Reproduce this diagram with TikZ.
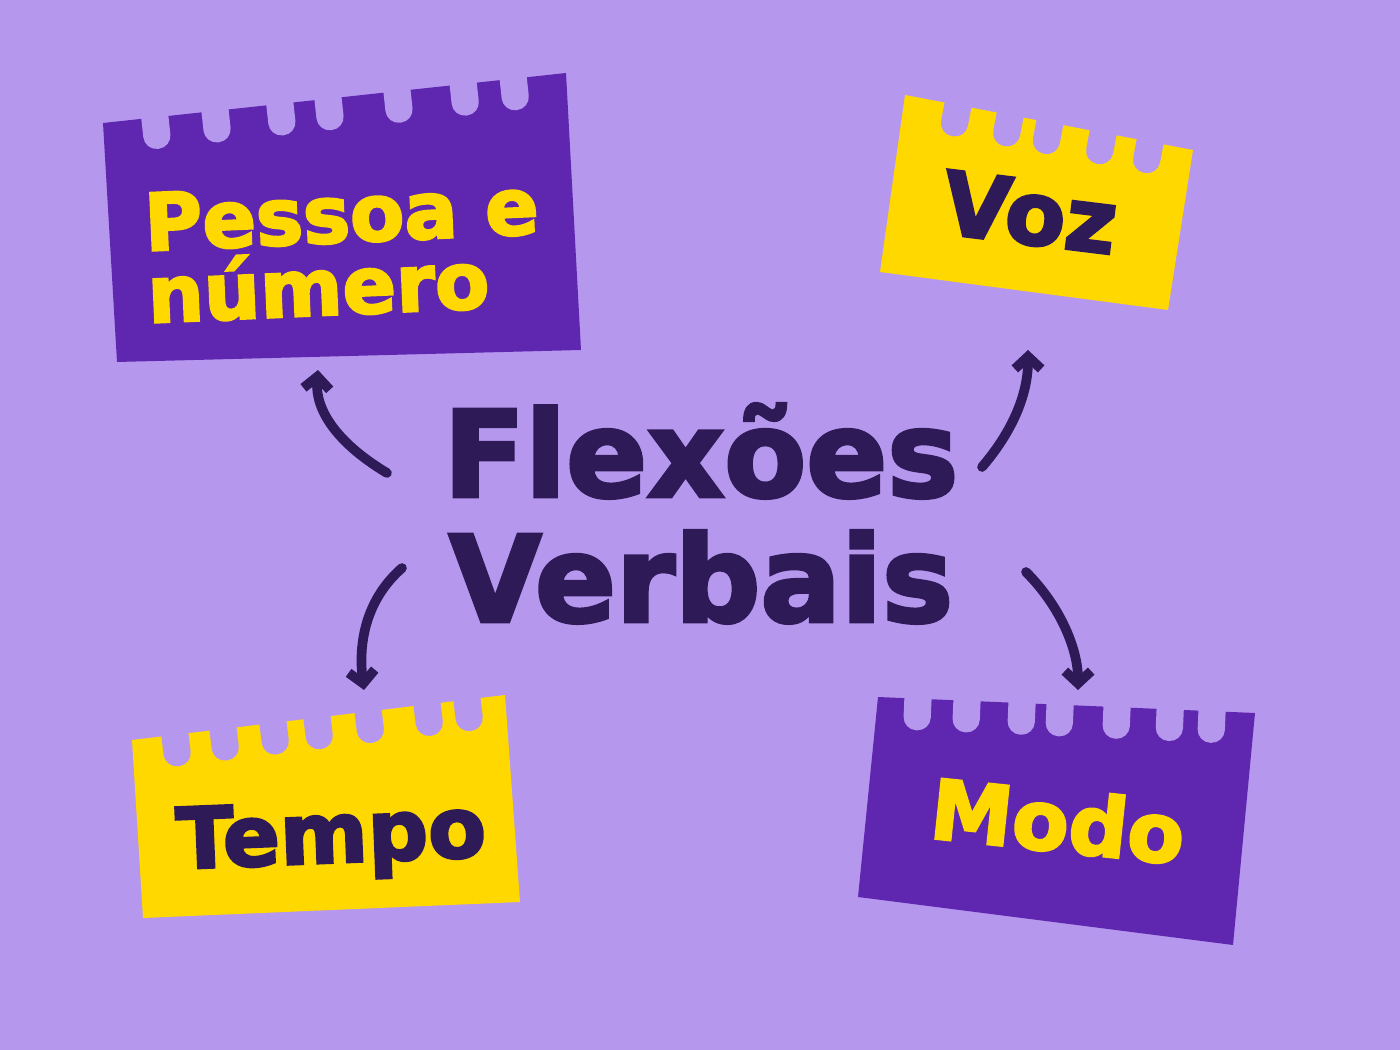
\documentclass[tikz,border=0pt]{standalone}
\usepackage{fontspec}
\usepackage{tikz}
\usetikzlibrary{positioning,arrows.meta}
\newfontfamily\pesada{DejaVu Sans Bold}[FakeBold=3]
\definecolor{fundo}{HTML}{B697EE}
\definecolor{roxo}{HTML}{5F27B0}
\definecolor{amarelo}{HTML}{FFD800}
\definecolor{escuro}{HTML}{2F1A58}
\tikzstyle{furo}=[
        fill = fundo,
        rectangle,
        rounded corners = 7.5pt,
        minimum width = 15.5pt,
        minimum height = 36pt,
        inner sep = 0pt
    ]
\tikzstyle{rotulo}=[
        inner sep = 0pt,
        text depth = 0pt
    ]
\tikzstyle{titulo}=[
    text = escuro,
    inner sep = 0pt,
    text height = 49.6pt,
    text depth = 0pt,
    font = \pesada\fontsize{68}{68}\selectfont
]
\tikzstyle{seta}=[
    draw = escuro,
    line width = 5.5pt,
    line cap = round,
    -{Straight Barb[length=7pt,width=15pt]}
]

\begin{document}
\begin{tikzpicture}[x=0.02cm, y=-0.02cm, node distance={2.5cm}]
        \fill[fundo] (0,0) rectangle (1400,1050);

        % bilhetes
        \coordinate (a1) at (103,123);
        \coordinate (a2) at (566,73);
        \fill[roxo] (a1) -- (a2) -- (581,350) -- (117,362) -- cycle;
        \path (a1) -- (a2) foreach \t [count=\i] in {0.112,0.242,0.382,0.486,0.635,0.778,0.886} {node[furo, pos=\t, sloped] (furoa\i) {}};

        \coordinate (b1) at (905,95);
        \coordinate (b2) at (1193,150);
        \fill[amarelo] (b1) -- (b2) -- (1168,310) -- (880,272) -- cycle;
        \path (b1) -- (b2) foreach \t [count=\i] in {0.184,0.365,0.503,0.688,0.851} {node[furo, pos=\t, sloped] (furob\i) {}};

        \coordinate (c1) at (132,740);
        \coordinate (c2) at (505,695);
        \fill[amarelo] (c1) -- (c2) -- (520,902) -- (143,918) -- cycle;
        \path (c1) -- (c2) foreach \t [count=\i] in {0.115,0.244,0.378,0.496,0.633,0.791,0.898} {node[furo, pos=\t, sloped] (furoc\i) {}};

        \coordinate (d1) at (878,697);
        \coordinate (d2) at (1255,713);
        \fill[roxo] (d1) -- (d2) -- (1233,945) -- (858,897) -- cycle;
        \path (d1) -- (d2) foreach \t [count=\i] in {0.106,0.236,0.382,0.483,0.634,0.775,0.886} {node[furo, pos=\t, sloped] (furod\i) {}};

        % textos
        \node[inner sep=0pt, text=amarelo, align=left, rotate=2.5, font=\pesada\fontsize{45}{41}\selectfont] (pessoa) at (343,250) {Pessoa e\\número};
        \node[rotulo, text=escuro, rotate=-7, font=\pesada\fontsize{50}{50}\selectfont] (voz) at (1030,212) {Voz};
        \node[rotulo, text=escuro, rotate=2.3, font=\pesada\fontsize{48}{48}\selectfont] (tempo) at (331,832) {Tempo};
        \node[rotulo, text=amarelo, rotate=-6, font=\pesada\fontsize{47}{47}\selectfont] (modo) at (1058,820) {Modo};

        \node[titulo] (flexoes) at (701,453) {Flexões};
        \node[titulo] (verbais) [below of = flexoes] {Verbais};

        % setas
        \coordinate (sai1) at (387,473);
        \coordinate (chega1) at (318,370);
        \coordinate (sai2) at (982,467);
        \coordinate (chega2) at (1028,350);
        \coordinate (sai3) at (402,568);
        \coordinate (chega3) at (364,690);
        \coordinate (sai4) at (1026,572);
        \coordinate (chega4) at (1078,690);

        \draw[seta] (sai1) .. controls +(-50,-30) and +(-3,40) .. (chega1);
        \draw[seta] (sai2) .. controls +(30,-35) and +(0,45) .. (chega2);
        \draw[seta] (sai3) .. controls +(-40,35) and +(-5,-40) .. (chega3);
        \draw[seta] (sai4) .. controls +(35,35) and +(0,-40) .. (chega4);

    \end{tikzpicture}
\end{document}
